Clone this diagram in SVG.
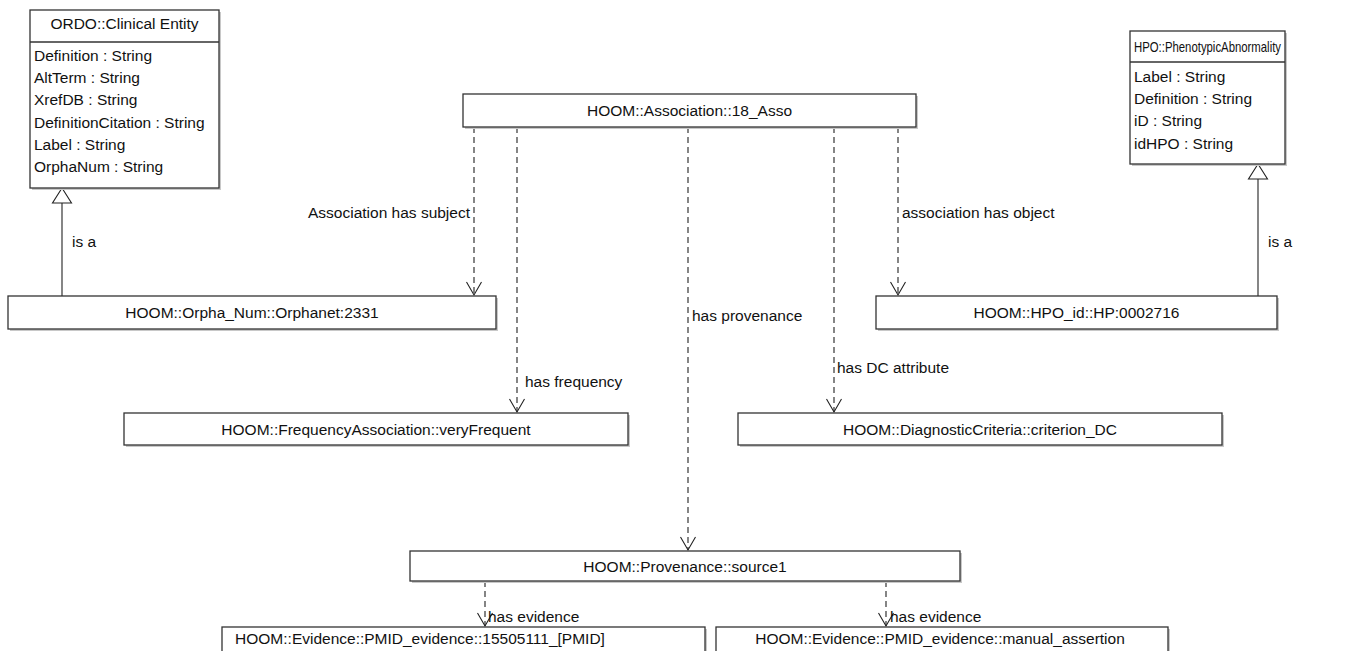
<svg xmlns="http://www.w3.org/2000/svg" width="1351" height="651" viewBox="0 0 1351 651">
<style>
text{font-family:"Liberation Sans",Arial,sans-serif;font-size:15.5px;fill:#111}
.c{text-anchor:middle}
.box{fill:#fff;stroke:#333;stroke-width:1.3}
.sh{fill:#c8c8c8}
.dep{fill:none;stroke:#222;stroke-width:1.1;stroke-dasharray:6,4}
.gen{fill:none;stroke:#222;stroke-width:1.1}
.tri{fill:#fff;stroke:#222;stroke-width:1.1}
</style>
<defs>
<marker id="open" markerUnits="userSpaceOnUse" markerWidth="20" markerHeight="20" viewBox="-15 -10 20 20" refX="0" refY="0" orient="auto-start-reverse">
<path d="M-13,-7.5 L0,0 L-13,7.5" fill="none" stroke="#222" stroke-width="1.1"/>
</marker>
</defs>
<rect width="1351" height="651" fill="#fff"/>

<g id="connectors">
<line class="dep" x1="474" y1="127" x2="474" y2="295" marker-end="url(#open)"/>
<line class="dep" x1="517" y1="127" x2="517" y2="412" marker-end="url(#open)"/>
<line class="dep" x1="688" y1="127" x2="688" y2="550" marker-end="url(#open)"/>
<line class="dep" x1="834" y1="127" x2="834" y2="412" marker-end="url(#open)"/>
<line class="dep" x1="898" y1="127" x2="898" y2="295" marker-end="url(#open)"/>
<line class="dep" x1="485" y1="581" x2="485" y2="626" marker-end="url(#open)"/>
<line class="dep" x1="886" y1="581" x2="886" y2="626" marker-end="url(#open)"/>
<line class="gen" x1="62" y1="203" x2="62" y2="296"/>
<polygon class="tri" points="62,188 52.5,203 71.5,203"/>
<line class="gen" x1="1258" y1="179" x2="1258" y2="296"/>
<polygon class="tri" points="1258,164 1248.5,179 1267.5,179"/>
<text x="470" y="218" text-anchor="end">Association has subject</text>
<text x="902" y="218">association has object</text>
<text x="692" y="321">has provenance</text>
<text x="525" y="387">has frequency</text>
<text x="837" y="373">has DC attribute</text>
<text x="488" y="622">has evidence</text>
<text x="890" y="622">has evidence</text>
<text x="72" y="247">is a</text>
<text x="1268" y="247">is a</text>
</g>

<g id="ordo">
<rect class="sh" x="32" y="12" width="189" height="178"/>
<rect class="box" x="30" y="10" width="189" height="178"/>
<line x1="30" y1="42" x2="219" y2="42" stroke="#333" stroke-width="1.3"/>
<text class="c" x="124.5" y="29">ORDO::Clinical Entity</text>
<text x="34" y="61">Definition : String</text>
<text x="34" y="83">AltTerm : String</text>
<text x="34" y="105">XrefDB : String</text>
<text x="34" y="128">DefinitionCitation : String</text>
<text x="34" y="150">Label : String</text>
<text x="34" y="172">OrphaNum : String</text>
</g>

<g id="hpo">
<rect class="sh" x="1132" y="33" width="155" height="133"/>
<rect class="box" x="1130" y="31" width="155" height="133"/>
<line x1="1130" y1="62" x2="1285" y2="62" stroke="#333" stroke-width="1.3"/>
<text x="1134" y="52" style="font-size:14.5px" textLength="147" lengthAdjust="spacingAndGlyphs">HPO::PhenotypicAbnormality</text>
<text x="1134" y="82">Label : String</text>
<text x="1134" y="104">Definition : String</text>
<text x="1134" y="126">iD : String</text>
<text x="1134" y="149">idHPO : String</text>
</g>

<g id="assoc">
<rect class="sh" x="465" y="96" width="453" height="33"/>
<rect class="box" x="463" y="94" width="453" height="33"/>
<text class="c" x="689.5" y="116">HOOM::Association::18_Asso</text>
</g>

<g id="orpha">
<rect class="sh" x="10" y="298" width="488" height="33"/>
<rect class="box" x="8" y="296" width="488" height="33"/>
<text class="c" x="252" y="318">HOOM::Orpha_Num::Orphanet:2331</text>
</g>

<g id="hpoid">
<rect class="sh" x="878" y="298" width="401" height="33"/>
<rect class="box" x="876" y="296" width="401" height="33"/>
<text class="c" x="1076.5" y="318">HOOM::HPO_id::HP:0002716</text>
</g>

<g id="freq">
<rect class="sh" x="126" y="415" width="504" height="32"/>
<rect class="box" x="124" y="413" width="504" height="32"/>
<text class="c" x="376" y="435">HOOM::FrequencyAssociation::veryFrequent</text>
</g>

<g id="dc">
<rect class="sh" x="740" y="415" width="484" height="32"/>
<rect class="box" x="738" y="413" width="484" height="32"/>
<text class="c" x="980" y="435">HOOM::DiagnosticCriteria::criterion_DC</text>
</g>

<g id="prov">
<rect class="sh" x="412" y="553" width="550" height="30"/>
<rect class="box" x="410" y="551" width="550" height="30"/>
<text class="c" x="685" y="572">HOOM::Provenance::source1</text>
</g>

<g id="ev1">
<rect class="sh" x="224" y="629" width="483" height="30"/>
<rect class="box" x="222" y="627" width="483" height="30"/>
<text class="c" x="420" y="644">HOOM::Evidence::PMID_evidence::15505111_[PMID]</text>
</g>

<g id="ev2">
<rect class="sh" x="718" y="629" width="452" height="30"/>
<rect class="box" x="716" y="627" width="452" height="30"/>
<text class="c" x="940" y="644">HOOM::Evidence::PMID_evidence::manual_assertion</text>
</g>
</svg>
